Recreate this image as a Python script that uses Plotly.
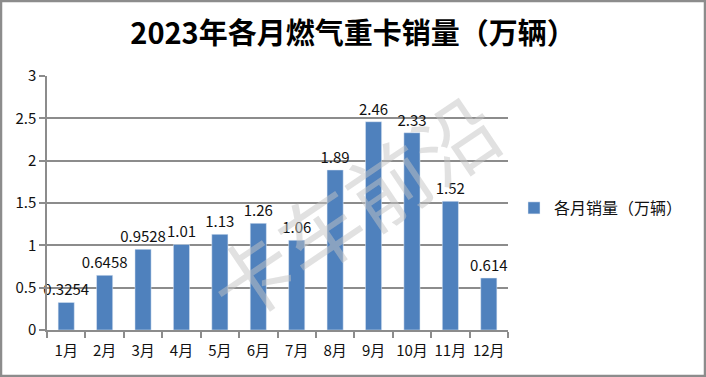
import plotly.graph_objects as go

months = ["1月", "2月", "3月", "4月", "5月", "6月", "7月", "8月", "9月", "10月", "11月", "12月"]
sales = [0.3254, 0.6458, 0.9528, 1.01, 1.13, 1.26, 1.06, 1.89, 2.46, 2.33, 1.52, 0.614]
labels = ["0.3254", "0.6458", "0.9528", "1.01", "1.13", "1.26", "1.06", "1.89", "2.46", "2.33", "1.52", "0.614"]
series_name = "各月销量（万辆）"
title = "2023年各月燃气重卡销量（万辆）"
watermark = "卡车前沿"

font_fam = "Noto Sans CJK SC, Noto Sans, sans-serif"

fig = go.Figure()
fig.add_trace(go.Bar(
    x=months, y=sales, name=series_name,
    marker=dict(color="#4F81BD"),
    text=labels, textposition="outside", cliponaxis=False, constraintext="none",
    textfont=dict(size=15, color="#111", family=font_fam),
))

L, R, T, B = 47, 198, 76, 47
W, H = 706, 377
pw, ph = W - L - R, H - T - B

fig.update_layout(
    width=W, height=H,
    margin=dict(l=L, r=R, t=T, b=B),
    paper_bgcolor="white", plot_bgcolor="white",
    title=dict(text="<b>" + title + "</b>", x=0.5, xref="container", xanchor="center",
               y=1 - 34 / H, yanchor="middle",
               font=dict(size=29, color="black", family=font_fam)),
    bargap=0.58,
    showlegend=True,
    legend=dict(x=1 + (514 - (W - R)) / pw, y=(330 - 208) / ph, xanchor="left", yanchor="middle",
                font=dict(size=16, color="#111", family=font_fam),
                itemwidth=30, bgcolor="rgba(0,0,0,0)"),
    font=dict(family=font_fam),
)
fig.update_yaxes(range=[0, 3], dtick=0.5, showgrid=True, gridcolor="#8c8c8c", gridwidth=1.5,
                 showline=True, linecolor="#8c8c8c", linewidth=1.5,
                 ticks="outside", ticklen=6, tickcolor="#8c8c8c", tickwidth=1.5,
                 tickfont=dict(size=15, color="#111"), zeroline=False)
fig.update_xaxes(showline=True, linecolor="#8c8c8c", linewidth=1.5,
                 ticks="outside", ticklen=6, tickcolor="#8c8c8c", tickwidth=1.5, tickangle=0,
                 ticklabelstandoff=6,
                 tickson="boundaries", tickfont=dict(size=15, color="#111"))

fig.add_annotation(text=watermark, xref="paper", yref="paper",
                   x=(352 - L) / pw, y=(330 - 205) / ph, xanchor="center", yanchor="middle",
                   showarrow=False,
                   textangle=-34, font=dict(size=82, color="rgba(195,195,195,0.5)", family=font_fam))

fig.add_shape(type="rect", xref="paper", yref="paper",
              x0=(1 - L) / pw, x1=(W - 1 - L) / pw,
              y0=(330 - (H - 1)) / ph, y1=(330 - 1) / ph,
              line=dict(color="#8c8c8c", width=2.5), layer="above")

fig.write_html("out.html", config={"displayModeBar": False},
               post_script="document.body.style.margin='0';document.body.style.overflow='hidden';")
